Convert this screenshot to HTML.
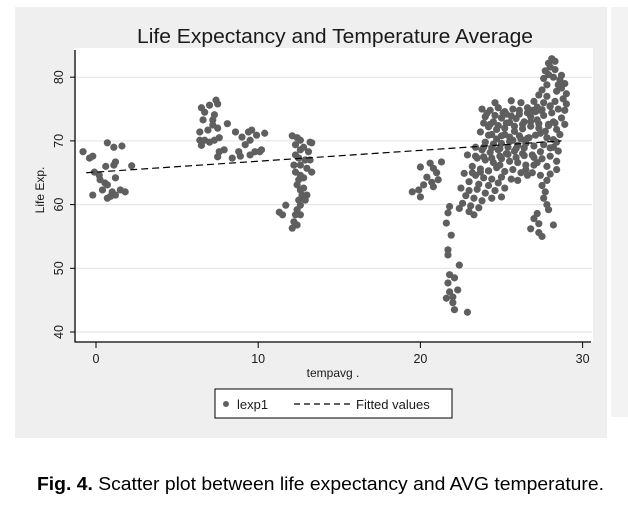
<!DOCTYPE html>
<html><head><meta charset="utf-8"><style>
body{margin:0;background:#fff;width:628px;height:501px;overflow:hidden;font-family:"Liberation Sans",Arial,sans-serif}
</style></head><body>
<svg id="chart" width="628" height="501" viewBox="0 0 628 501" xmlns="http://www.w3.org/2000/svg" font-family="Liberation Sans, Arial, sans-serif">
<rect x="15" y="7" width="592" height="431" fill="#efefef"/>
<rect x="611" y="7" width="17" height="410" fill="#f3f3f3"/>
<rect x="74" y="48" width="519" height="294" fill="#fff"/>
<text x="335" y="43" font-size="20.5" text-anchor="middle" fill="#1a1a1a" textLength="396" lengthAdjust="spacingAndGlyphs">Life Expectancy and Temperature Average</text>
<g id="grid"></g>
<g id="points"></g>
<g id="fit"></g>
<g id="axes"></g>
<text transform="translate(44,190) rotate(-90)" font-size="12" text-anchor="middle" fill="#1a1a1a">Life Exp.</text>
<text x="333" y="377" font-size="12" text-anchor="middle" fill="#1a1a1a">tempavg .</text>
<g>
<rect x="215" y="389" width="237" height="29" fill="#fff" stroke="#000" stroke-width="1"/>
<circle cx="226" cy="404" r="3" fill="#606060"/>
<text x="237" y="409" font-size="13" fill="#1a1a1a">lexp1</text>
<line x1="294" y1="404" x2="350" y2="404" stroke="#000" stroke-width="1.2" stroke-dasharray="6,4"/>
<text x="356" y="409" font-size="13" fill="#1a1a1a">Fitted values</text>
</g>
<text x="37" y="490" font-size="18" fill="#000" textLength="567" lengthAdjust="spacingAndGlyphs"><tspan font-weight="bold">Fig. 4.</tspan> Scatter plot between life expectancy and AVG temperature.</text>
</svg>
<script>
const xTicks=[0,10,20,30];
const yTicks=[40,50,60,70,80];
const fitX=[-0.6,28.7];
const fitY=[65.0,70.0];
const temps=[-0.8,-0.2,-0.4,0.7,1.1,1.6,-0.1,0.2,0.25,0.55,-0.2,0.4,0.7,1.1,1.2,1.2,1.0,1.2,1.5,1.8,2.2,0.7,0.9,0.6,
6.5,6.7,7.0,7.4,7.5,7.2,7.3,6.9,6.4,6.4,6.7,7.0,7.3,7.6,7.5,7.2,8.1,7.6,7.5,8.8,8.9,8.4,9.2,9.4,9.5,9.6,9.9,10.4,9.5,9.8,10.1,10.2,8.6,9.0,7.9,6.5,6.6,
12.1,12.4,12.6,12.3,12.6,12.8,13.1,13.2,12.5,12.9,12.6,12.3,12.6,12.5,12.8,12.4,12.6,12.8,12.7,13.0,12.5,12.9,12.6,12.4,12.3,12.6,12.2,12.1,12.4,11.5,11.7,11.3,13.0,13.2,13.3,12.2,12.3,13.3,
20.0,20.6,20.8,21.0,20.4,20.7,20.8,20.2,19.5,20.0,21.3,21.1,19.9,
21.7,21.6,21.9,21.7,21.7,22.4,21.8,22.1,21.7,22.3,21.8,21.6,22.0,22.1,22.9,22.0,
28.1,28.3,27.9,28.0,27.7,27.9,27.6,28.2,28.6,28.9,28.7,28.4,29.0,28.8,29.0,28.3,27.8,27.5,27.3,27.6,28.0,28.5,28.9,27.2,27.0,26.9,28.7,28.2,28.9,28.4,27.6,28.1,28.7,28.3,27.8,28.5,
23.8,24.3,24.8,25.2,25.7,26.1,26.6,24.0,24.5,25.0,25.5,25.9,26.4,26.8,27.2,24.2,24.7,25.2,25.8,26.3,26.8,27.3,27.7,24.4,25.0,25.5,26.1,26.6,27.1,27.8,28.2,25.3,26.2,25.6,24.6,23.9,
24.0,24.5,25.0,25.5,26.0,26.5,27.0,27.6,28.2,23.8,24.3,24.8,25.3,25.8,26.3,26.9,27.4,28.0,28.5,23.5,24.0,24.5,25.0,25.5,26.0,26.5,27.2,27.8,28.4,23.2,23.7,24.2,24.7,25.2,25.7,26.2,23.4,23.9,24.4,25.0,25.6,26.6,23.0,23.6,24.2,24.8,
22.5,23.0,23.5,24.0,24.6,25.2,22.8,23.3,23.8,24.4,22.6,23.1,23.6,22.4,23.0,23.3,25.0,21.8,
26.9,27.4,27.8,27.5,27.7,27.6,27.8,27.9,27.2,27.0,27.3,26.8,27.3,27.5,28.2,28.0,28.4,27.0,26.5,26.0,
24.1,24.6,25.1,25.6,26.1,26.6,27.1,27.5,28.0,24.3,24.8,25.3,25.8,26.3,26.8,27.3,27.9,23.7,24.2,24.7,25.2,25.7,26.2,26.7,27.4,23.4,23.9,24.4,24.9,25.4,25.9,26.4,22.9,23.4,23.9,24.4,24.9,22.7,23.2,23.7,24.2,28.6,28.4,28.0,27.5,27.0,26.4,25.9,25.4,24.9,28.3,27.9,27.4];
const lexp=[68.3,67.6,67.3,69.7,69.0,69.2,65.1,64.6,63.9,63.4,61.5,62.3,63.1,66.2,66.7,64.2,62.0,61.5,62.3,62.0,66.1,61.0,61.3,66.0,
75.2,74.5,75.6,76.4,75.8,73.3,74.1,71.7,71.4,70.1,70.1,69.8,70.1,70.5,72.0,72.5,72.7,68.3,67.5,68.3,67.6,67.3,69.4,71.4,70.1,71.7,70.9,71.2,67.8,68.3,68.3,68.6,71.4,70.6,68.6,69.3,73.3,
70.8,70.5,70.1,69.4,68.6,69.0,68.3,69.8,67.3,67.0,66.2,65.1,64.6,63.9,64.2,63.1,62.3,62.6,61.5,61.5,60.7,60.7,59.9,59.2,58.4,58.4,57.3,56.3,56.8,58.4,59.9,58.8,65.7,67.0,65.1,66.2,67.8,69.7,
65.9,66.5,65.7,65.0,64.3,63.5,62.8,63.1,62.0,61.2,66.7,63.9,62.3,
58.7,57.1,55.2,52.9,52.1,50.5,49.0,48.5,47.7,46.6,46.3,45.3,44.6,43.5,43.1,45.5,
82.9,82.5,82.2,81.6,81.0,80.4,79.8,80.0,79.6,79.0,78.3,77.8,77.4,76.6,75.8,76.2,77.0,78.0,77.2,76.0,75.5,75.0,74.8,75.3,76.2,74.8,73.6,73.0,72.6,71.8,74.0,74.4,80.3,81.2,78.8,78.8,
75.0,74.8,75.2,74.6,75.0,74.8,75.2,73.8,73.0,73.6,72.9,73.5,73.0,73.8,73.3,72.2,71.8,72.0,71.5,71.9,72.3,72.0,71.5,71.0,70.8,70.6,70.8,70.4,70.9,70.5,70.2,74.2,76.0,76.3,76.0,72.8,
69.8,69.5,69.6,69.9,69.3,69.6,69.2,69.4,69.0,68.6,68.2,68.6,68.0,68.4,68.0,67.8,68.3,67.6,68.4,67.3,67.0,66.6,67.2,66.8,66.6,66.2,66.6,66.0,66.8,66.0,65.6,65.3,65.8,65.2,65.5,65.0,64.6,64.2,64.0,64.3,64.0,64.6,63.6,63.2,63.0,63.4,
62.6,62.2,62.4,61.8,62.2,62.6,61.4,61.0,60.6,61.0,60.2,59.8,59.5,59.4,58.9,58.4,61.2,59.7,
65.0,64.6,63.8,63.0,62.0,61.0,60.0,59.2,58.6,57.8,57.0,56.2,55.6,55.0,56.8,64.8,65.5,66.2,65.5,63.8,
74.3,74.0,74.4,73.9,74.2,74.4,74.6,74.9,75.4,72.6,72.4,72.8,72.3,72.6,73.0,72.7,72.4,71.4,70.9,70.3,71.0,70.1,70.3,70.5,71.2,69.0,69.0,68.9,68.8,69.0,68.8,68.9,67.8,67.6,67.5,67.3,67.6,64.9,65.0,65.1,65.3,71.0,69.8,68.9,67.2,67.4,67.7,67.4,67.9,66.2,72.8,72.6,74.8];
const NS="http://www.w3.org/2000/svg";
function sx(v){return 96+v*16.22;}
function sy(v){return 332-(v-40)*6.37;}
function mk(tag,attrs,parent){const e=document.createElementNS(NS,tag);for(const k in attrs)e.setAttribute(k,attrs[k]);parent.appendChild(e);return e;}
const grid=document.getElementById('grid'),axes=document.getElementById('axes'),pts=document.getElementById('points'),fit=document.getElementById('fit');
yTicks.forEach(t=>{
  const g=mk('line',{x1:76,x2:592,y1:sy(t),y2:sy(t),stroke:'#e2e2e2','stroke-width':1},grid);
  
  
  const tk=mk('line',{x1:70,x2:75,y1:sy(t),y2:sy(t),stroke:'#000'},axes);
  
  
  const lb=mk('text',{transform:`translate(63,${sy(t)}) rotate(-90)`,'font-size':12.5,'text-anchor':'middle',fill:'#1a1a1a'},axes);
  lb.textContent=t;
  
  
});
xTicks.forEach(t=>{
  const tk=mk('line',{x1:sx(t),x2:sx(t),y1:342,y2:348,stroke:'#000'},axes);
  
  
  const lb=mk('text',{x:sx(t),y:363,'font-size':12.5,'text-anchor':'middle',fill:'#1a1a1a'},axes);
  lb.textContent=t;
  
  
});
const ya=mk('line',{x1:75,x2:75,y1:50,y2:342.5,stroke:'#000','stroke-width':1.3},axes);


const xa=mk('line',{x1:75,x2:591,y1:342,y2:342,stroke:'#000','stroke-width':1.3},axes);


for(let i=0;i<temps.length;i++){
  const c=mk('circle',{cx:sx(temps[i]),cy:sy(lexp[i]),r:3.6,fill:'#5f5f5f'},pts);
  
  
}
const fl=mk('line',{x1:sx(fitX[0]),y1:sy(fitY[0]),x2:sx(fitX[1]),y2:sy(fitY[1]),stroke:'#000','stroke-width':1.2,'stroke-dasharray':'7,4'},fit);


</script>
</body></html>
